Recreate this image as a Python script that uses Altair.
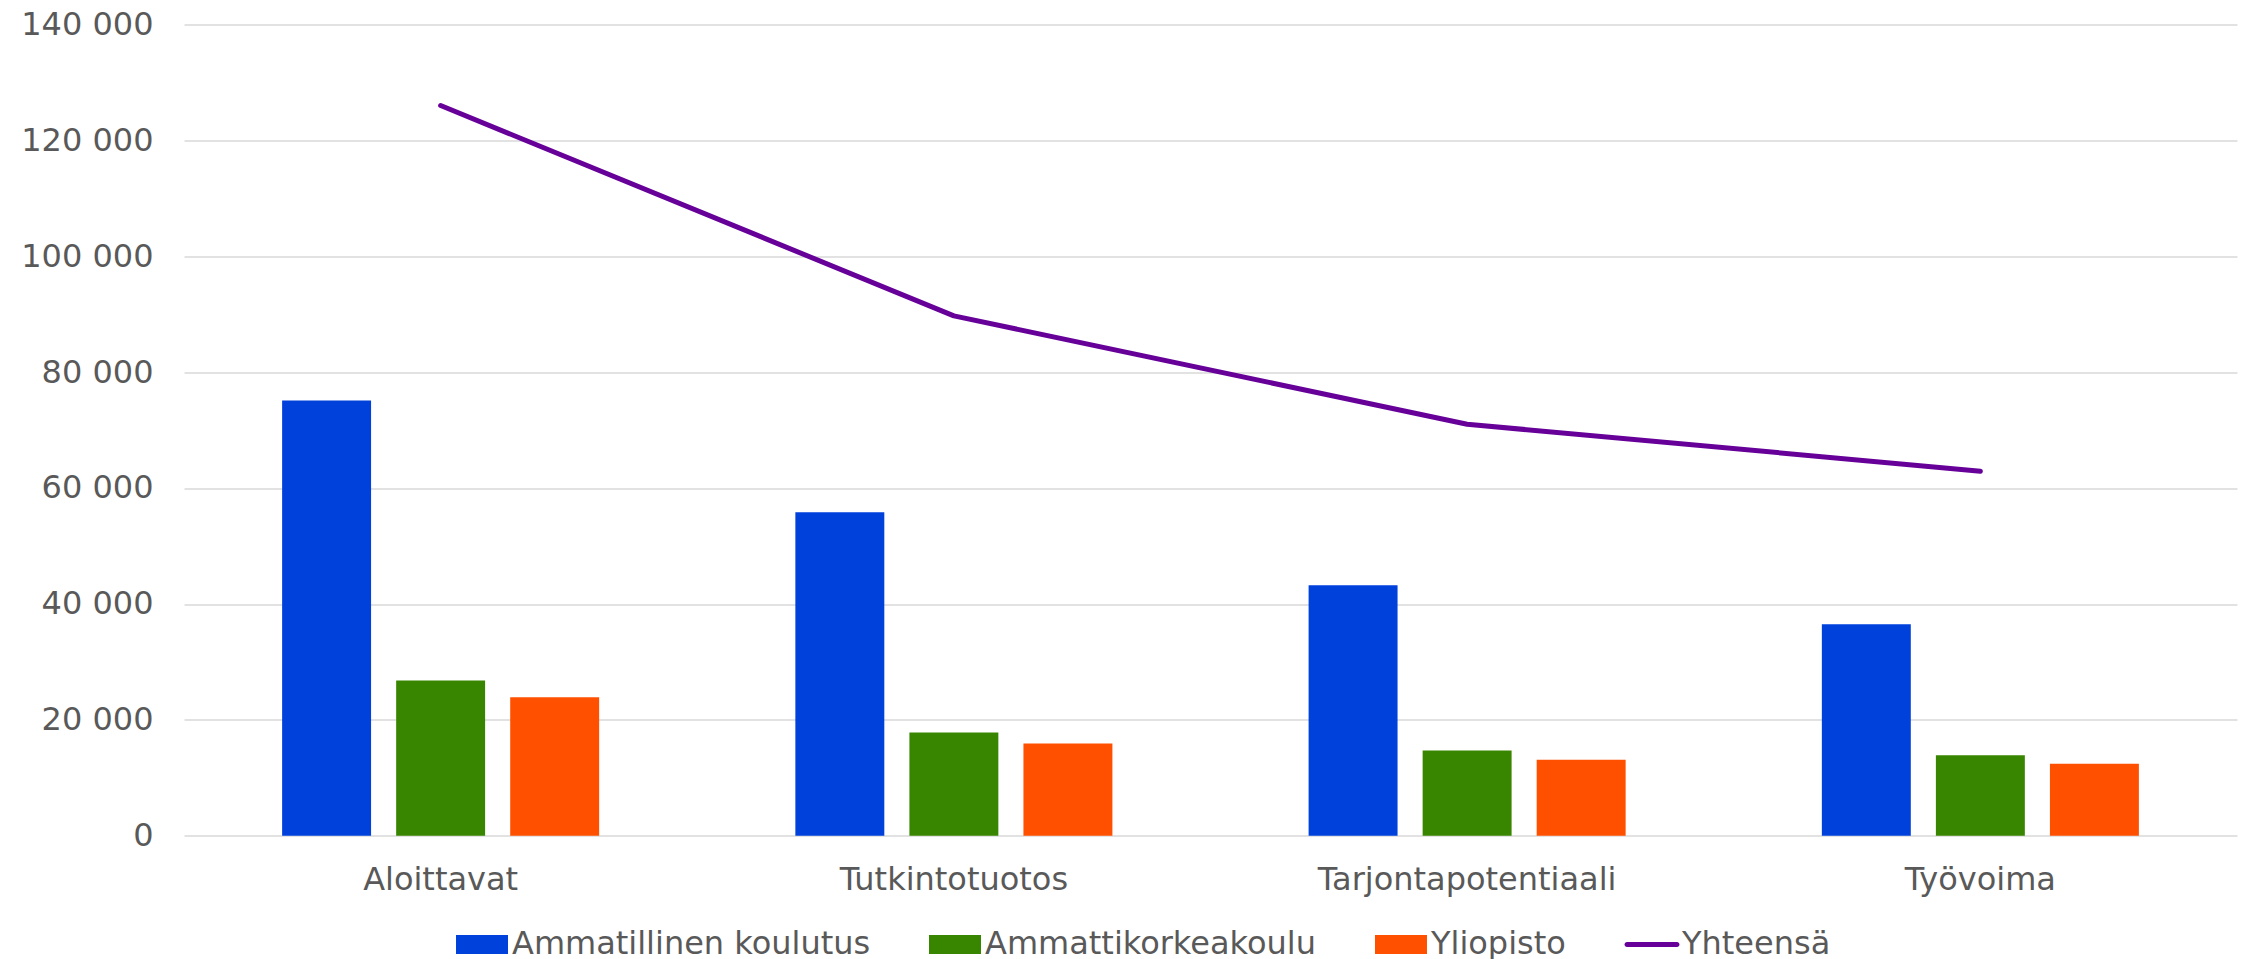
import altair as alt
import pandas as pd

categories = ["Aloittavat", "Tutkintotuotos", "Tarjontapotentiaali", "Työvoima"]
series_names = ["Ammatillinen koulutus", "Ammattikorkeakoulu", "Yliopisto", "Yhteensä"]
ammatillinen = [75100, 55800, 43200, 36500]
ammattikorkeakoulu = [26800, 17800, 14700, 13900]
yliopisto = [23900, 15900, 13100, 12400]
yhteensa = [126000, 89700, 71000, 62900]
colors = ["#0041DC", "#388600", "#FF5000", "#660099"]
y_ticks = [0, 20000, 40000, 60000, 80000, 100000, 120000, 140000]

rows = []
for s, vals in zip(series_names[:3], [ammatillinen, ammattikorkeakoulu, yliopisto]):
    for c, v in zip(categories, vals):
        rows.append({"category": c, "series": s, "value": v})
bars_df = pd.DataFrame(rows)
line_df = pd.DataFrame({"category": categories, "value": yhteensa})
legend_df = pd.DataFrame({"series": series_names})

FONT = "DejaVu Sans"
TXT = "#595959"

x_enc = alt.X(
    "category:N", sort=categories,
    scale=alt.Scale(paddingInner=0.3334, paddingOuter=0.1667),
    axis=alt.Axis(title=None, labelAngle=0, ticks=False, domain=False, grid=False,
                  labelFont=FONT, labelFontSize=32, labelColor=TXT, labelPadding=29,
                  labelLimit=0),
)
y_enc = alt.Y(
    "value:Q",
    scale=alt.Scale(domain=[0, 140000], nice=False),
    axis=alt.Axis(title=None, values=y_ticks,
                  labelExpr="replace(format(datum.value, ','), ',', ' ')",
                  ticks=False, domain=False, grid=True, gridColor="#D9D9D9", gridWidth=1.5,
                  labelFont=FONT, labelFontSize=32, labelColor=TXT, labelPadding=31,
                  labelLimit=0),
)

bars = alt.Chart(bars_df).mark_bar().encode(
    x=x_enc,
    xOffset=alt.XOffset("series:N", sort=series_names[:3],
                        scale=alt.Scale(paddingInner=0.22, paddingOuter=0.11)),
    y=y_enc,
    fill=alt.Fill("series:N", scale=alt.Scale(domain=series_names[:3], range=colors[:3]),
                  legend=None),
)

line = alt.Chart(line_df).mark_line(
    color="#660099", strokeWidth=5, strokeCap="round", strokeJoin="round"
).encode(x=x_enc, y=y_enc)

rect_path = "M-1,-0.365L1,-0.365L1,0.365L-1,0.365Z"
line_path = ("M-0.96,-0.096L0.96,-0.096A0.096,0.096,0,0,1,0.96,0.096"
             "L-0.96,0.096A0.096,0.096,0,0,1,-0.96,-0.096Z")
shapes = [rect_path, rect_path, rect_path, line_path]

leg = alt.Legend(
    title=None, orient="none", legendX=272, legendY=894, direction="horizontal",
    columns=4, labelFont=FONT, labelFontSize=32, labelColor=TXT, labelOffset=4,
    symbolSize=2704, symbolStrokeWidth=0, symbolOpacity=1, columnPadding=58,
    padding=0, labelLimit=1000,
)

pts = alt.Chart(legend_df).mark_point(filled=True, size=0).encode(
    color=alt.Color("series:N", scale=alt.Scale(domain=series_names, range=colors), legend=leg),
    shape=alt.Shape("series:N", scale=alt.Scale(domain=series_names, range=shapes), legend=leg),
)

chart = alt.layer(bars, line, pts).properties(
    width=2053, height=811.3,
    autosize=alt.AutoSizeParams(type="none"),
    padding={"left": 176, "top": 16.4, "right": 4, "bottom": 127},
    background="white",
).configure_view(stroke=None)

chart.save("out.html", embed_options={"renderer": "svg", "actions": False})
